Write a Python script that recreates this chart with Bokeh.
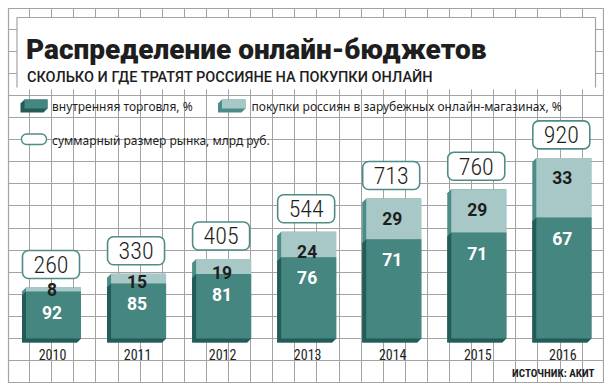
from bokeh.plotting import figure
from bokeh.models import Grid, FixedTicker, Label
from bokeh.embed import file_html
from bokeh.resources import INLINE
from bokeh.core.properties import value
import numpy as np

# ---------------- data ----------------
years = [2010, 2011, 2012, 2013, 2014, 2015, 2016]
domestic_pct = [92, 85, 81, 76, 71, 71, 67]
foreign_pct = [8, 15, 19, 24, 29, 29, 33]
market_total = [260, 330, 405, 544, 713, 760, 920]
year_labels = [str(y) for y in years]

title_text = "Распределение онлайн-бюджетов"
subtitle_text = "СКОЛЬКО И ГДЕ ТРАТЯТ РОССИЯНЕ НА ПОКУПКИ ОНЛАЙН"
legend_labels = ["внутренняя торговля, %",
                 "покупки россиян в зарубежных онлайн-магазинах, %",
                 "суммарный размер рынка, млрд руб."]
source_text = "ИСТОЧНИК: АКИТ"

# ---------------- styles ----------------
DARK = "#468680"
DARK_SIDE = "#235b56"
LIGHT = "#a7c8c6"
LIGHT_SIDE = "#4b8c86"
BOX_LINE = "#4f8c86"
GRID = "#a3a3a3"
TXT = "#1e1e1e"
THIN = ("Roboto Condensed Light, Noto Sans ExtraCondensed Light, Noto Sans Condensed Light, "
        "Roboto Light, Noto Sans Light, Open Sans Light, Roboto, sans-serif")
NARROW = "Liberation Sans Narrow, Roboto Condensed, Noto Sans Condensed, Roboto, sans-serif"
HEAVY = "Roboto Black, Noto Sans Black, Roboto, sans-serif"
MEDIUM = "Roboto Medium, Roboto, sans-serif"

# ---------------- geometry ----------------
W, H = 596, 375          # frame size
M = 8                    # offset of frame inside the figure
PX_PER_YEAR = 85.05
X0_PX = 45.0
PX_PER_UNIT = 0.1963
BASE_PX = 330.0

x_start = years[0] - X0_PX / PX_PER_YEAR
x_end = x_start + W / PX_PER_YEAR
y_end = BASE_PX / PX_PER_UNIT
y_start = y_end - H / PX_PER_UNIT


def dx(px):
    return px / PX_PER_YEAR


def dy(px):
    return px / PX_PER_UNIT


def X(page_x):
    return x_start + (page_x - M) / PX_PER_YEAR


def Y(page_y):
    return y_end - (page_y - M) / PX_PER_UNIT


p = figure(width=W + M, height=H + M, x_range=(x_start, x_end), y_range=(y_start, y_end),
           x_axis_type=None, y_axis_type=None, toolbar_location=None,
           output_backend="svg", min_border_left=M, min_border_top=M,
           min_border_right=0, min_border_bottom=0)
p.outline_line_color = GRID
p.outline_line_width = 1.2
p.background_fill_color = "white"
p.border_fill_color = "white"

# background grid (decorative, 22px cells)
vx = [X(7 + 22.1 * k) for k in range(1, 27)]
hy = [Y(338 - 22.1 * k) for k in range(-1, 15)]
p.add_layout(Grid(dimension=0, ticker=FixedTicker(ticks=vx), grid_line_color=GRID, grid_line_width=1))
p.add_layout(Grid(dimension=1, ticker=FixedTicker(ticks=hy), grid_line_color=GRID, grid_line_width=1))

# title box (white, open at bottom)
p.quad(left=[X(16.5)], right=[X(595)], bottom=[Y(89)], top=[Y(17)], fill_color="white", line_color=None)
p.multi_line(xs=[[X(16.5), X(16.5), X(595), X(595)]], ys=[[Y(87), Y(17), Y(17), Y(87)]],
             line_color=GRID, line_width=1.2)

p.add_layout(Label(x=X(25.5), y=Y(48.5), text=title_text, text_font=HEAVY,
                   text_font_size="28px", text_color=TXT, text_baseline="alphabetic"))
p.add_layout(Label(x=X(26.5), y=Y(76.5), text=subtitle_text, text_font=MEDIUM,
                   text_font_size="14.5px", text_color=TXT, text_baseline="alphabetic"))

# ---------------- bars ----------------
yrs = np.array(years, dtype=float)
tot = np.array(market_total, dtype=float)
dom = tot * np.array(domestic_pct, dtype=float) / 100.0
hw = dx(27.5)
lft = yrs - hw
rgt = yrs + hw
sx, sy = dx(4), dy(4)


def hexes(top):
    xs, ys = [], []
    for l, r, t in zip(lft, rgt, top):
        xs.append([l - sx, r - sx, r, r, l, l - sx])
        ys.append([-sy, -sy, 0, t, t, t - sy])
    return xs, ys


hx, hyy = hexes(tot)
p.patches(hx, hyy, fill_color=LIGHT_SIDE, line_color=None)
hx, hyy = hexes(dom)
p.patches(hx, hyy, fill_color=DARK_SIDE, line_color=None)
p.quad(left=lft, right=rgt, bottom=0, top=dom, fill_color=DARK, line_color=None)
p.quad(left=lft, right=rgt, bottom=dom, top=tot, fill_color=LIGHT, line_color=None)

# percent labels
light_y = np.maximum(dom + dy(2), tot - dy(20))
dark_y = dom - dy(20.5)
p.text(x=yrs - dx(1.5), y=light_y, text=[str(v) for v in foreign_pct], text_align="center",
       text_baseline="alphabetic", text_font=value("Roboto"), text_font_style="bold",
       text_font_size="17.5px", text_color=TXT)
p.text(x=yrs - dx(1.5), y=dark_y, text=[str(v) for v in domestic_pct], text_align="center",
       text_baseline="alphabetic", text_font=value("Roboto"), text_font_style="bold",
       text_font_size="17.5px", text_color="white")

# total boxes
cx = yrs - dx(2.5)
bb = tot + dy(9)
bt = bb + dy(28)
kw = dict(left=cx - dx(28.5), right=cx + dx(28.5), bottom=bb, top=bt, fill_color="white",
          line_color=BOX_LINE, line_width=1.6)
try:
    p.quad(border_radius=6, **kw)
except Exception:
    p.quad(**kw)
p.text(x=cx, y=(bb + bt) / 2, text=[str(v) for v in market_total], text_align="center",
       text_baseline="middle", text_font=value(THIN), text_font_size="24px", text_color=TXT)

# year labels
p.text(x=yrs - dx(1), y=np.full(len(yrs), -dy(16)), text=year_labels, text_align="center",
       text_baseline="middle", text_font=value(NARROW), text_font_size="14px", text_color=TXT)

# source
p.add_layout(Label(x=X(594), y=Y(373), text=source_text, text_align="right", text_baseline="middle",
                   text_font=NARROW, text_font_style="bold", text_font_size="11px",
                   text_color=TXT))

# ---------------- legend (decorative) ----------------
def slab(x0, x1, y0, y1, front, side):
    s = 4
    p.patch([X(x0 - s), X(x1 - s), X(x1), X(x1), X(x0), X(x0 - s)],
            [Y(y1 + s), Y(y1 + s), Y(y1), Y(y0), Y(y0), Y(y0 + s)], fill_color=side, line_color=None)
    p.quad(left=[X(x0)], right=[X(x1)], bottom=[Y(y1)], top=[Y(y0)], fill_color=front, line_color=None)


slab(24, 47, 99, 108, DARK, DARK_SIDE)
slab(221.5, 245, 99, 108, LIGHT, LIGHT_SIDE)
kw2 = dict(left=[X(21)], right=[X(46)], bottom=[Y(144)], top=[Y(133.5)], fill_color="white",
           line_color=BOX_LINE, line_width=1.4)
try:
    p.quad(border_radius=5, **kw2)
except Exception:
    p.quad(**kw2)

for tx, ty, t in [(51.5, 106, legend_labels[0]), (251, 106, legend_labels[1]), (51.5, 139.5, legend_labels[2])]:
    p.add_layout(Label(x=X(tx), y=Y(ty), text=t, text_font="Noto Sans", text_font_size="12px",
                       text_color=TXT, text_baseline="middle"))

open("out.html", "w").write(file_html(p, INLINE))
